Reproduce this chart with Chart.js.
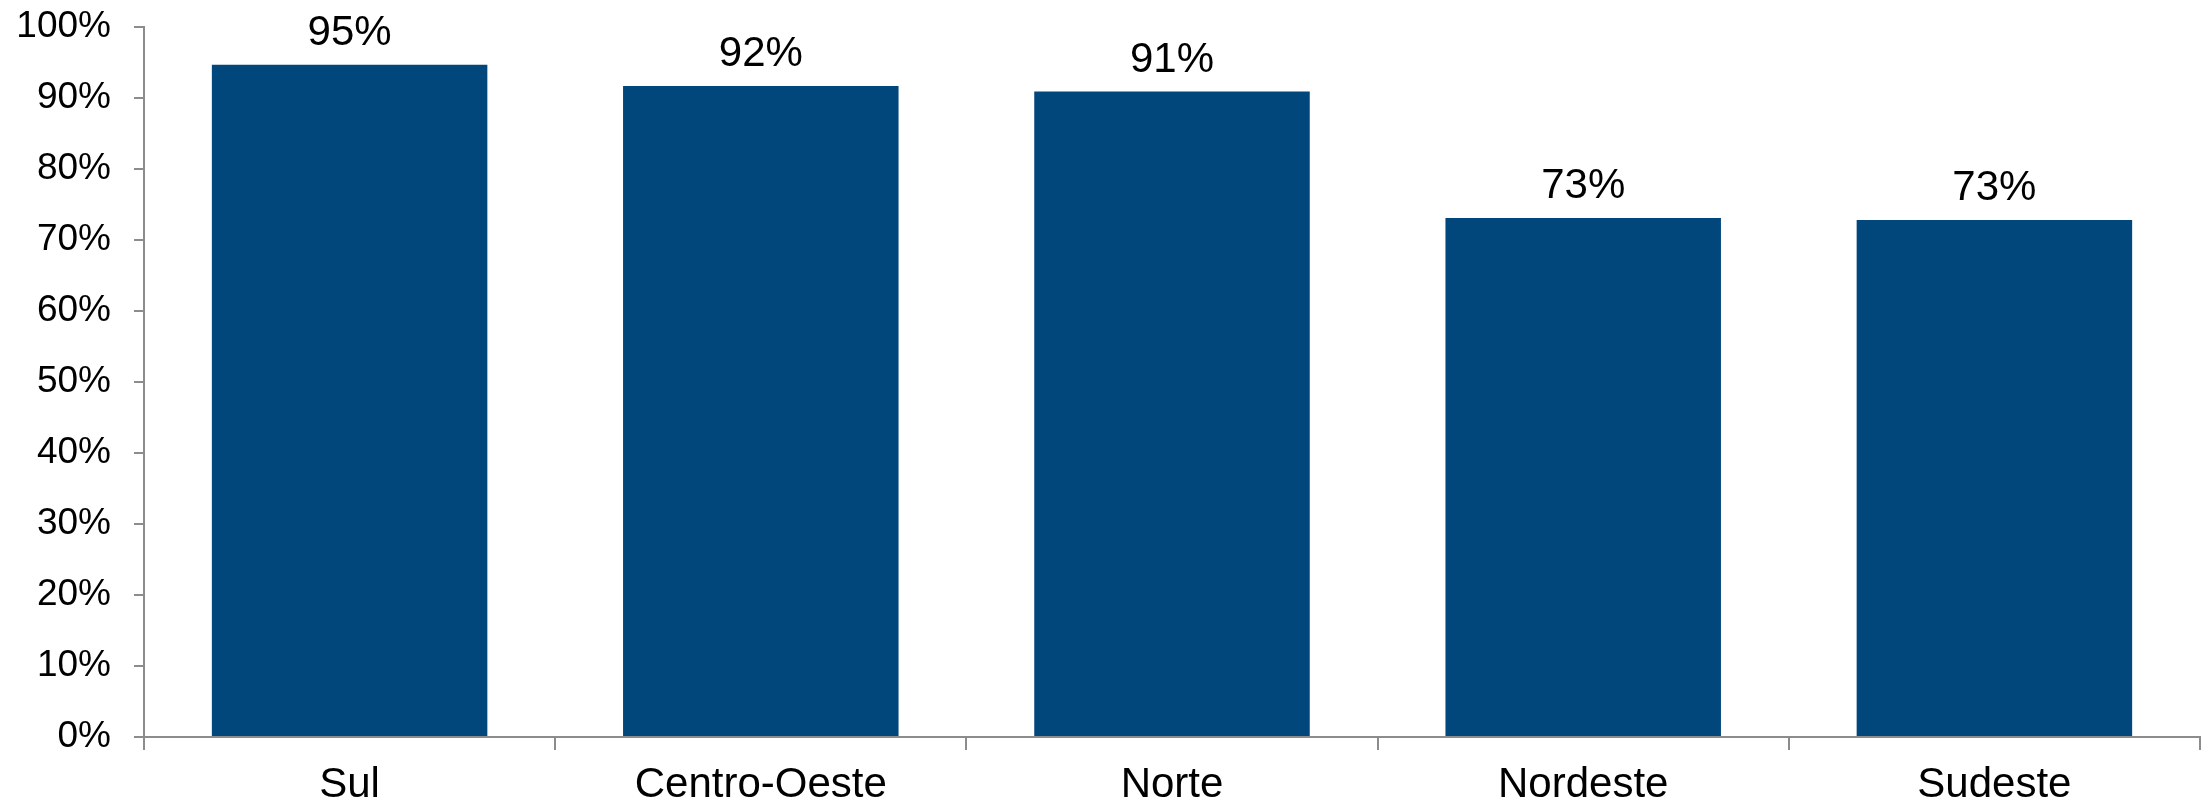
<!DOCTYPE html>
<html lang="pt">

<head>
    <meta charset="UTF-8">
    <title>Percentual por região</title>
    <style>
        html, body { margin: 0; padding: 0; background: #fff; }
        .chartBox { width: 2208px; height: 808px; }
    </style>
</head>

<body>
    <div class="chartBox">
        <canvas id="regionChart" width="2208" height="808"></canvas>
    </div>
</body>
<script src="https://cdn.jsdelivr.net/npm/chart.js"></script>
<script>
    // data
    const regioes = ['Sul', 'Centro-Oeste', 'Norte', 'Nordeste', 'Sudeste'];
    const percentuais = [94.7, 91.7, 90.9, 73.1, 72.8];
    const yMin = 0, yMax = 100, yStep = 10;

    const fontFamily = '"Liberation Sans", Arial, sans-serif';
    const axisGray = '#8c8c8c';

    // draws the "95%" style labels above each bar
    const barLabels = {
        id: 'barLabels',
        afterDatasetsDraw(chart) {
            const ctx = chart.ctx;
            const meta = chart.getDatasetMeta(0);
            ctx.save();
            ctx.font = '42px ' + fontFamily;
            ctx.fillStyle = '#000';
            ctx.textAlign = 'center';
            ctx.textBaseline = 'alphabetic';
            meta.data.forEach((bar, i) => {
                ctx.fillText(Math.round(percentuais[i]) + '%', bar.x, bar.y - 20);
            });
            ctx.restore();
        }
    };

    const ctx = document.getElementById('regionChart').getContext('2d');
    const chart = new Chart(ctx, {
        type: 'bar',
        data: {
            labels: regioes,
            datasets: [{
                data: percentuais,
                backgroundColor: '#02477c',
                borderWidth: 0,
                categoryPercentage: 1,
                barPercentage: 0.67
            }]
        },
        options: {
            responsive: false,
            animation: false,
            layout: { padding: { top: 27, right: 8, bottom: 0, left: 0 } },
            plugins: {
                legend: { display: false },
                tooltip: { enabled: false }
            },
            scales: {
                x: {
                    grid: {
                        offset: true,
                        drawOnChartArea: false,
                        drawTicks: true,
                        tickLength: 13,
                        color: axisGray,
                        lineWidth: 2
                    },
                    border: { display: true, color: axisGray, width: 2 },
                    ticks: {
                        color: '#000',
                        font: { family: fontFamily, size: 42 },
                        padding: 10,
                        maxRotation: 0
                    },
                    afterFit(scale) { scale.height = 71; }
                },
                y: {
                    min: yMin,
                    max: yMax,
                    grid: {
                        drawOnChartArea: false,
                        drawTicks: true,
                        tickLength: 10,
                        color: axisGray,
                        lineWidth: 2
                    },
                    border: { display: true, color: axisGray, width: 2 },
                    ticks: {
                        stepSize: yStep,
                        color: '#000',
                        font: { family: fontFamily, size: 37 },
                        padding: 23,
                        callback: v => v + '%'
                    },
                    afterFit(scale) {
                        scale.width = 144;
                        scale.paddingTop = 0;
                        scale.paddingBottom = 0;
                    }
                }
            }
        },
        plugins: [barLabels]
    });
</script>

</html>
